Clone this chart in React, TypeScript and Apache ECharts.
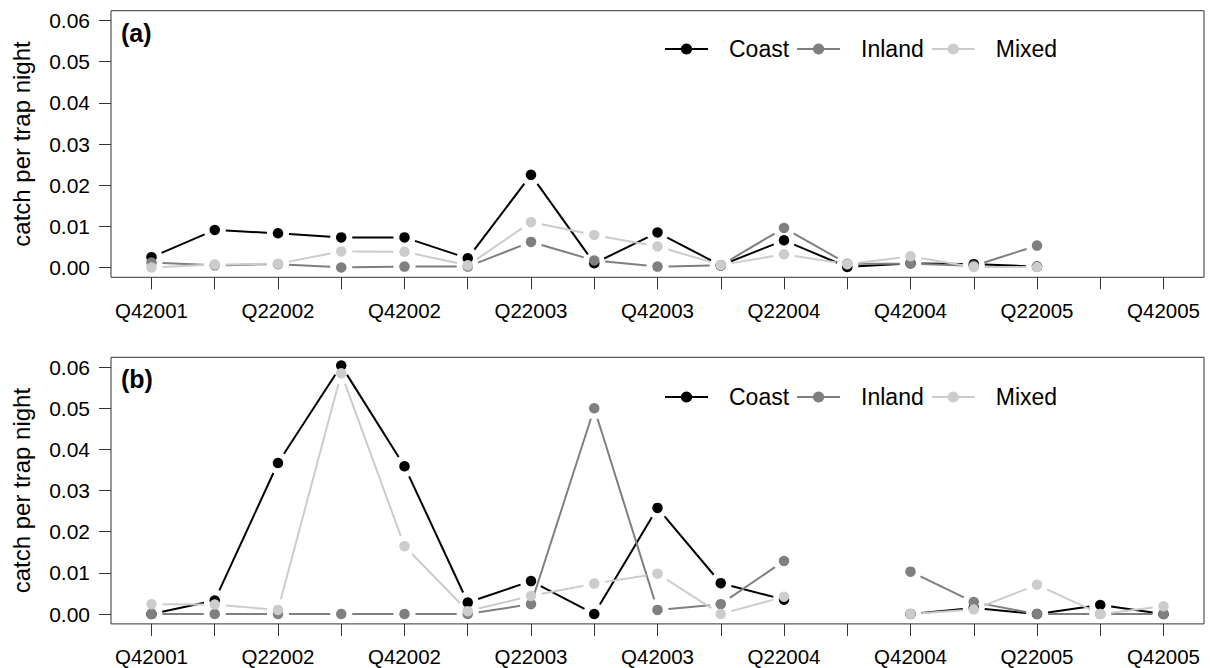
import React, { useEffect, useRef } from 'react';
import * as echarts from 'echarts';

const quarters = [
  'Q42001', 'Q12002', 'Q22002', 'Q32002', 'Q42002', 'Q12003', 'Q22003', 'Q32003', 'Q42003',
  'Q12004', 'Q22004', 'Q32004', 'Q42004', 'Q12005', 'Q22005', 'Q32005', 'Q42005',
];
const tickIndex = quarters.map((_, i) => i);
const labelIndex = tickIndex.filter((i) => i % 2 === 0);
const yTicks = [0, 0.01, 0.02, 0.03, 0.04, 0.05, 0.06];
const seriesNames = ['Coast', 'Inland', 'Mixed'];
const panelLetters = ['(a)', '(b)'];
const yTitle = 'catch per trap night';

// panel (a)
const coastA = [0.0025, 0.0091, 0.0083, 0.0073, 0.0073, 0.0022, 0.0225, 0.0010, 0.0085, 0.0005, 0.0066, 0.0001, 0.0010, 0.0008, 0.0002, null, null];
const inlandA = [0.0012, 0.0005, 0.0008, 0.0000, 0.0002, 0.0002, 0.0062, 0.0017, 0.0002, 0.0005, 0.0096, 0.0009, 0.0009, 0.0004, 0.0053, null, null];
const mixedA = [0.0000, 0.0007, 0.0009, 0.0039, 0.0038, 0.0005, 0.0110, 0.0079, 0.0051, 0.0006, 0.0032, 0.0008, 0.0027, 0.0001, 0.0001, null, null];

// panel (b)
const coastB = [0.0000, 0.0033, 0.0367, 0.0604, 0.0359, 0.0028, 0.0080, 0.0000, 0.0258, 0.0075, 0.0035, null, 0.0000, 0.0015, 0.0000, 0.0022, 0.0000];
const inlandB = [0.0000, 0.0000, 0.0000, 0.0000, 0.0000, 0.0000, 0.0024, 0.0500, 0.0010, 0.0024, 0.0129, null, 0.0103, 0.0029, 0.0000, 0.0000, 0.0000];
const mixedB = [0.0024, 0.0023, 0.0010, 0.0585, 0.0165, 0.0007, 0.0044, 0.0074, 0.0098, 0.0000, 0.0042, null, 0.0000, 0.0011, 0.0071, 0.0000, 0.0019];

const panels = [
  [coastA, inlandA, mixedA],
  [coastB, inlandB, mixedB],
];

const colors = ['#000000', '#7f7f7f', '#cccccc'];

export default function App() {
  const ref = useRef<HTMLDivElement>(null);

  useEffect(() => {
    const chart = echarts.init(ref.current as HTMLDivElement, null, { renderer: 'svg' });
    const font = '"Liberation Sans", Arial, Helvetica, sans-serif';
    const boxColor = '#333333';
    const gridTops = [10.7, 357.3];
    const gridHeight = 266.6;
    const legendTops = [37, 385];
    const pointGap = 11; // R type="b": segments stop short of the points

    const grid = gridTops.map((top) => ({
      left: 111,
      top,
      width: 1093,
      height: gridHeight,
      show: true,
      borderColor: boxColor,
      borderWidth: 1,
      backgroundColor: 'transparent',
    }));

    const xAxis = gridTops.map((_, k) => ({
      gridIndex: k,
      type: 'value',
      position: 'bottom',
      min: -0.64,
      max: 16.64,
      axisLine: { show: false, onZero: false },
      splitLine: { show: false },
      axisTick: {
        show: true,
        customValues: tickIndex,
        length: 12,
        inside: false,
        lineStyle: { color: boxColor, width: 1 },
      },
      axisLabel: {
        customValues: labelIndex,
        formatter: (v: number) => quarters[Math.round(v)],
        fontSize: 20.5,
        color: '#000',
        fontFamily: font,
        margin: k === 0 ? 23 : 22,
      },
    }));

    const yAxis = gridTops.map((_, k) => ({
      gridIndex: k,
      type: 'value',
      position: 'left',
      min: -0.0024,
      max: 0.0624,
      axisLine: { show: false, onZero: false },
      splitLine: { show: false },
      axisTick: {
        show: true,
        customValues: yTicks,
        length: 12,
        inside: false,
        lineStyle: { color: boxColor, width: 1 },
      },
      axisLabel: {
        customValues: yTicks,
        formatter: (v: number) => v.toFixed(2),
        fontSize: 21,
        color: '#000',
        fontFamily: font,
        margin: 21,
      },
    }));

    const series: any[] = [];
    panels.forEach((panel, k) => {
      panel.forEach((values, s) => {
        const color = colors[s];
        // connecting segments, shortened near each point (R type = "b")
        series.push({
          name: seriesNames[s] + ' segments',
          type: 'custom',
          xAxisIndex: k,
          yAxisIndex: k,
          clip: false,
          silent: true,
          dimensions: ['x', 'y', 'next'],
          encode: { x: 0, y: 1 },
          data: values.map((v, i) => [
            i,
            v === null ? '-' : v,
            i + 1 < values.length && values[i + 1] !== null ? values[i + 1] : '-',
          ]),
          renderItem: (params: any, api: any) => {
            const i = api.value(0);
            const v0 = api.value(1);
            const v1 = api.value(2);
            if (isNaN(v0) || isNaN(v1)) return null;
            const a = api.coord([i, v0]);
            const b = api.coord([i + 1, v1]);
            const dx = b[0] - a[0];
            const dy = b[1] - a[1];
            const d = Math.sqrt(dx * dx + dy * dy);
            if (d <= 2 * pointGap) return null;
            const ux = dx / d;
            const uy = dy / d;
            return {
              type: 'line',
              shape: {
                x1: a[0] + ux * pointGap,
                y1: a[1] + uy * pointGap,
                x2: b[0] - ux * pointGap,
                y2: b[1] - uy * pointGap,
              },
              style: { stroke: color, lineWidth: 2, fill: null },
            };
          },
        });
        // points
        series.push({
          name: seriesNames[s],
          type: 'line',
          xAxisIndex: k,
          yAxisIndex: k,
          data: values.map((v, i) => [i, v === null ? '-' : v]),
          symbol: 'circle',
          symbolSize: 10.5,
          showSymbol: true,
          lineStyle: { color, width: 0, opacity: 0 },
          itemStyle: { color },
          emphasis: { disabled: true },
          silent: true,
        });
      });
    });

    const legend = legendTops.map((top) => ({
      left: 664,
      top,
      orient: 'horizontal',
      padding: 0,
      itemGap: 7,
      itemWidth: 43,
      itemHeight: 14,
      selectedMode: false,
      data: seriesNames,
      lineStyle: { width: 2, opacity: 1 },
      textStyle: {
        fontSize: 23,
        lineHeight: 24,
        color: '#000',
        fontFamily: font,
        padding: [0, 0, 0, 16],
      },
    }));

    const graphic: any[] = [];
    gridTops.forEach((top, k) => {
      graphic.push({
        type: 'text',
        x: 121,
        y: top + 22,
        silent: true,
        style: {
          text: panelLetters[k],
          fontSize: 25,
          fontWeight: 'bold',
          fontFamily: font,
          fill: '#000',
          align: 'left',
          verticalAlign: 'middle',
        },
      });
      graphic.push({
        type: 'text',
        x: 21,
        y: top + gridHeight / 2,
        rotation: Math.PI / 2,
        silent: true,
        style: {
          text: yTitle,
          fontSize: 24,
          fontFamily: font,
          fill: '#000',
          align: 'center',
          verticalAlign: 'middle',
        },
      });
    });

    chart.setOption({
      animation: false,
      backgroundColor: '#ffffff',
      grid,
      xAxis,
      yAxis,
      legend,
      series,
      graphic,
    });

    return () => {
      chart.dispose();
    };
  }, []);

  return (
    <div
      ref={ref}
      style={{ position: 'fixed', left: 0, top: 0, width: 1210, height: 668 }}
    />
  );
}
